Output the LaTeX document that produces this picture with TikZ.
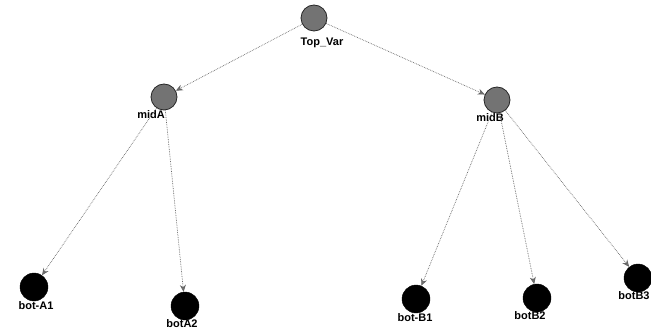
\documentclass[tikz,border=0pt]{standalone}
\usepackage{fontspec}
\setmainfont{Liberation Sans}
\usetikzlibrary{arrows.meta}
\begin{document}
\begin{tikzpicture}[x=1pt,y=-1pt,
  vnode/.style={circle,draw=black!85,line width=0.8pt,fill=black!55,minimum size=26pt,inner sep=0pt},
  bnode/.style={circle,draw=black,fill=black,minimum size=28pt,inner sep=0pt},
  lbl/.style={font=\bfseries\fontsize{11}{12}\selectfont,inner sep=0pt},
  edge/.style={draw=black!60,densely dotted,line width=0.7pt,-{Stealth[length=7pt,width=6pt,fill=black!55]}}]
\useasboundingbox (0,0) rectangle (651,334);
\node[vnode] (top) at (314,18) {};
\node[lbl] (ltop) at (322,43) {Top\_Var};
\node[vnode] (ma) at (164,97) {};
\node[lbl] (lma) at (151,115) {midA};
\node[vnode] (mb) at (497,100) {};
\node[lbl] (lmb) at (490,118) {midB};
\node[bnode] (a1) at (34,287) {};
\node[lbl] (la1) at (36,306) {bot-A1};
\node[bnode] (a2) at (185,306) {};
\node[lbl] (la2) at (182,324) {botA2};
\node[bnode] (b1) at (416,299) {};
\node[lbl] (lb1) at (415,318) {bot-B1};
\node[bnode] (b2) at (537,298) {};
\node[lbl] (lb2) at (530,316) {botB2};
\node[bnode] (b3) at (638,278) {};
\node[lbl] (lb3) at (634,296) {botB3};
\draw[edge] (top) -- (ma);
\draw[edge] (top) -- (mb);
\draw[edge] (ma) -- (a1);
\draw[edge] (ma) -- (a2);
\draw[edge] (mb) -- (b1);
\draw[edge] (mb) -- (b2);
\draw[edge] (mb) -- (b3);
\end{tikzpicture}
\end{document}
